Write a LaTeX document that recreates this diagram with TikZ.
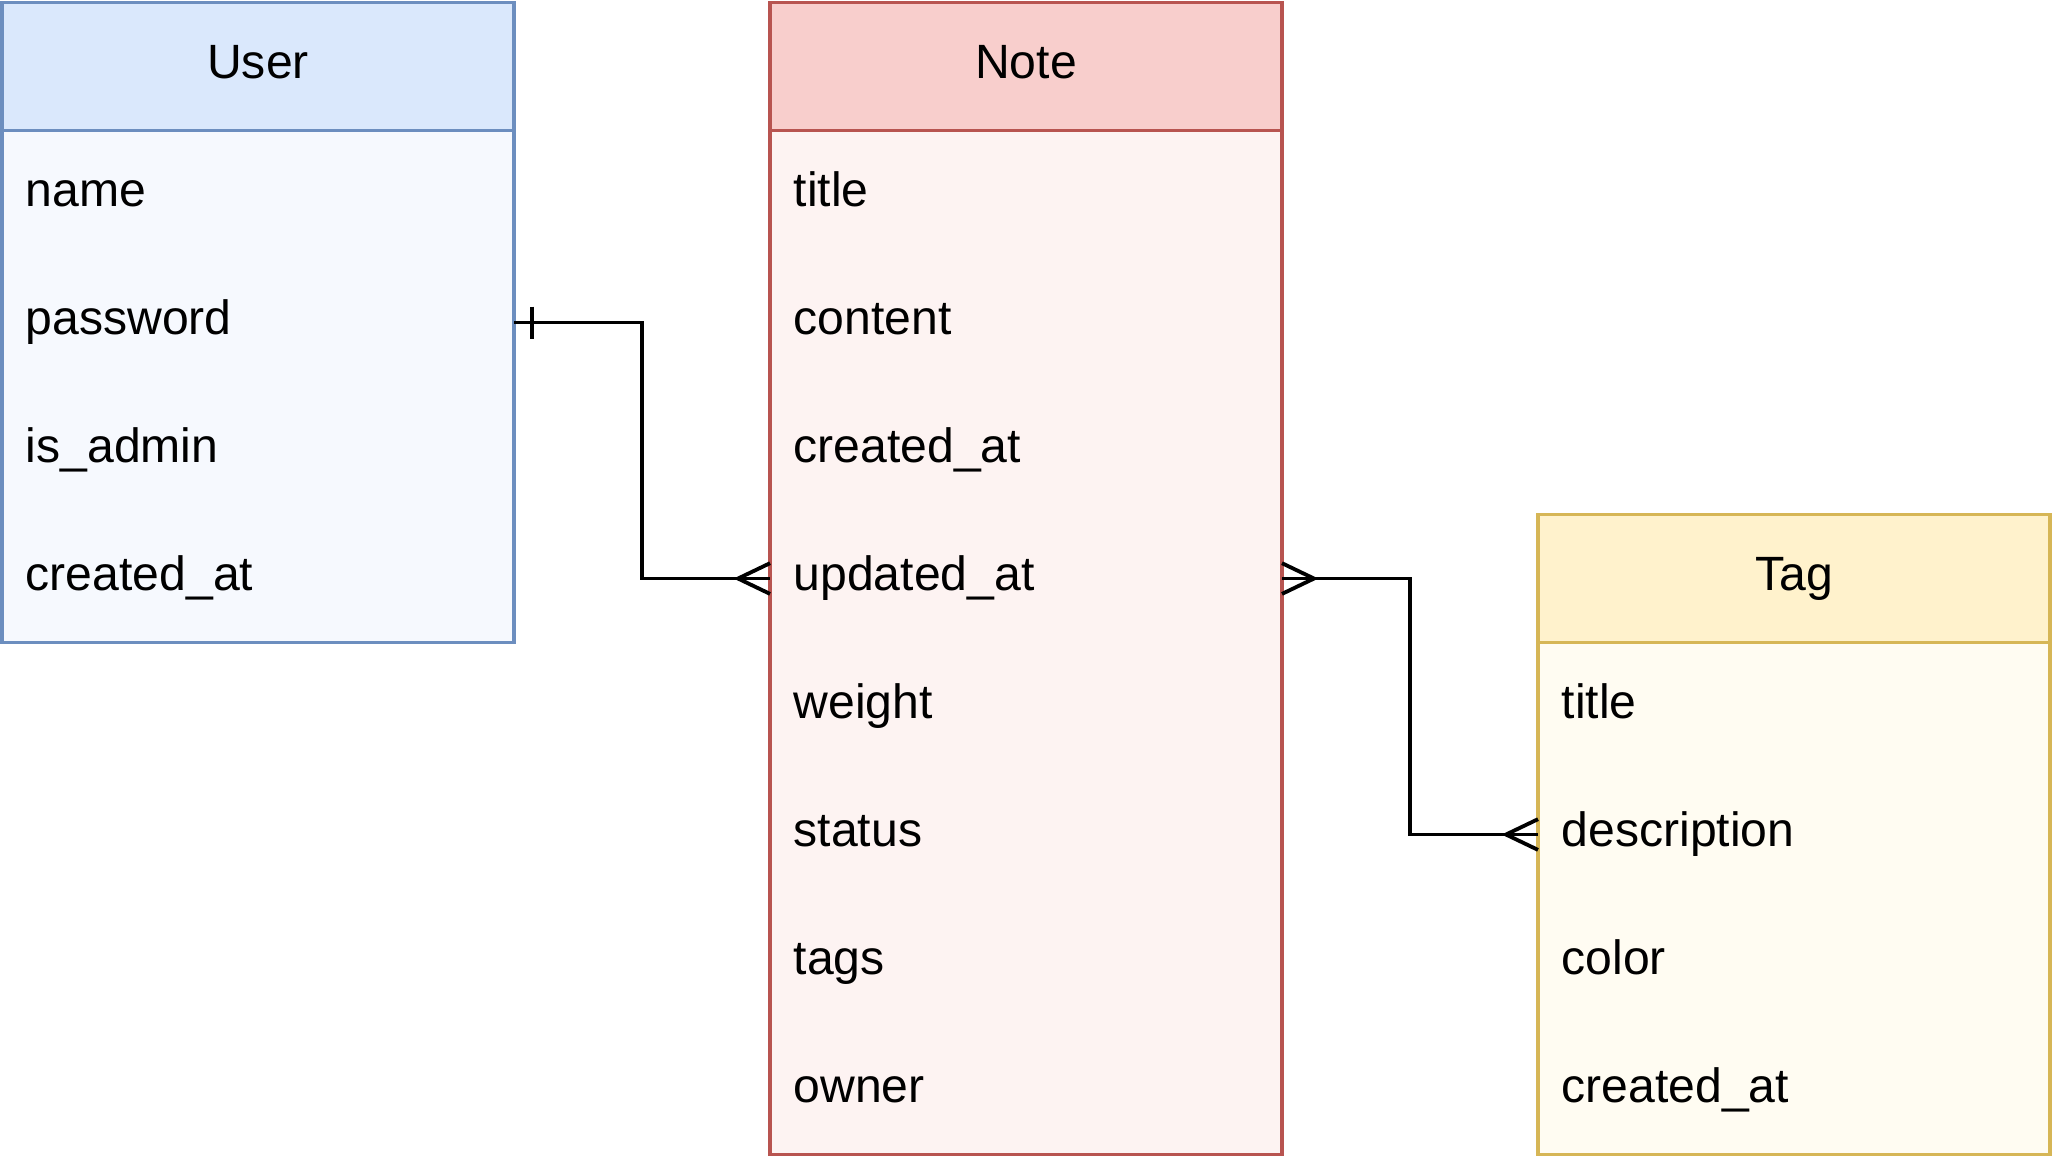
\documentclass[tikz,border=0pt]{standalone}
\usepackage{fontspec}
\setmainfont{Liberation Sans}
\usetikzlibrary{positioning,calc,backgrounds}

\definecolor{userfill}{HTML}{DAE8FC}
\definecolor{userline}{HTML}{6C8EBF}
\definecolor{notefill}{HTML}{F8CECC}
\definecolor{noteline}{HTML}{B85450}
\definecolor{tagfill}{HTML}{FFF2CC}
\definecolor{tagline}{HTML}{D6B656}

\tikzset{
  cell/.style={minimum width=4cm, minimum height=1cm, inner sep=0pt, outer sep=0pt,
    text height=0.8em, text depth=0.28em, font=\fontsize{10.7}{12}\selectfont},
  head/.style={cell, align=center},
  row/.style={cell, inner xsep=0.185cm, text width=3.63cm, align=left},
  frame/.style={line width=0.75pt},
  conn/.style={line width=0.85pt, black}
}

\begin{document}
\begin{tikzpicture}

% Fix the margins
\useasboundingbox (-0.016,0.02) rectangle (16.016,-9.0425);

% Draw the User table
\node[head, anchor=north west, fill=userfill] (user) at (0,0) {User};
\node[row, below=0pt of user] (user-name) {name};
\node[row, below=0pt of user-name] (user-password) {password};
\node[row, below=0pt of user-password] (user-admin) {is\_admin};
\node[row, below=0pt of user-admin] (user-created) {created\_at};

% Draw the Note table
\node[head, anchor=north west, fill=notefill] (note) at (6,0) {Note};
\node[row, below=0pt of note] (note-title) {title};
\node[row, below=0pt of note-title] (note-content) {content};
\node[row, below=0pt of note-content] (note-created) {created\_at};
\node[row, below=0pt of note-created] (note-updated) {updated\_at};
\node[row, below=0pt of note-updated] (note-weight) {weight};
\node[row, below=0pt of note-weight] (note-status) {status};
\node[row, below=0pt of note-status] (note-tags) {tags};
\node[row, below=0pt of note-tags] (note-owner) {owner};

% Draw the Tag table
\node[head, anchor=north west, fill=tagfill] (tag) at (12,-4) {Tag};
\node[row, below=0pt of tag] (tag-title) {title};
\node[row, below=0pt of tag-title] (tag-desc) {description};
\node[row, below=0pt of tag-desc] (tag-color) {color};
\node[row, below=0pt of tag-color] (tag-created) {created\_at};

% Fill the bodies behind the rows
\begin{scope}[on background layer]
\fill[userfill!25!white] (user.south west) rectangle (user-created.south east);
\fill[notefill!25!white] (note.south west) rectangle (note-owner.south east);
\fill[tagfill!25!white] (tag.south west) rectangle (tag-created.south east);
\end{scope}

% Draw the frames
\draw[frame, userline] (user.north west) rectangle (user-created.south east);
\draw[frame, userline] (user.south west) -- (user.south east);
\draw[frame, noteline] (note.north west) rectangle (note-owner.south east);
\draw[frame, noteline] (note.south west) -- (note.south east);
\draw[frame, tagline] (tag.north west) rectangle (tag-created.south east);
\draw[frame, tagline] (tag.south west) -- (tag.south east);

% Draw the connectors
\coordinate (bend1) at ($(user-password.east)!0.5!(note-updated.west)$);
\coordinate (bend2) at ($(note-updated.east)!0.5!(tag-desc.west)$);
\draw[conn] (user-password.east) -| (bend1) |- (note-updated.west);
\draw[conn] (note-updated.east) -| (bend2) |- (tag-desc.west);

% Add the one mark
\draw[conn] ([xshift=0.14cm, yshift=0.125cm]user-password.east) -- ([xshift=0.14cm, yshift=-0.125cm]user-password.east);

% Add the many marks
\draw[conn] ([yshift=0.12cm]note-updated.west) -- ([xshift=-0.25cm]note-updated.west) -- ([yshift=-0.12cm]note-updated.west);
\draw[conn] ([yshift=0.12cm]note-updated.east) -- ([xshift=0.25cm]note-updated.east) -- ([yshift=-0.12cm]note-updated.east);
\draw[conn] ([yshift=0.12cm]tag-desc.west) -- ([xshift=-0.25cm]tag-desc.west) -- ([yshift=-0.12cm]tag-desc.west);

\end{tikzpicture}
\end{document}
